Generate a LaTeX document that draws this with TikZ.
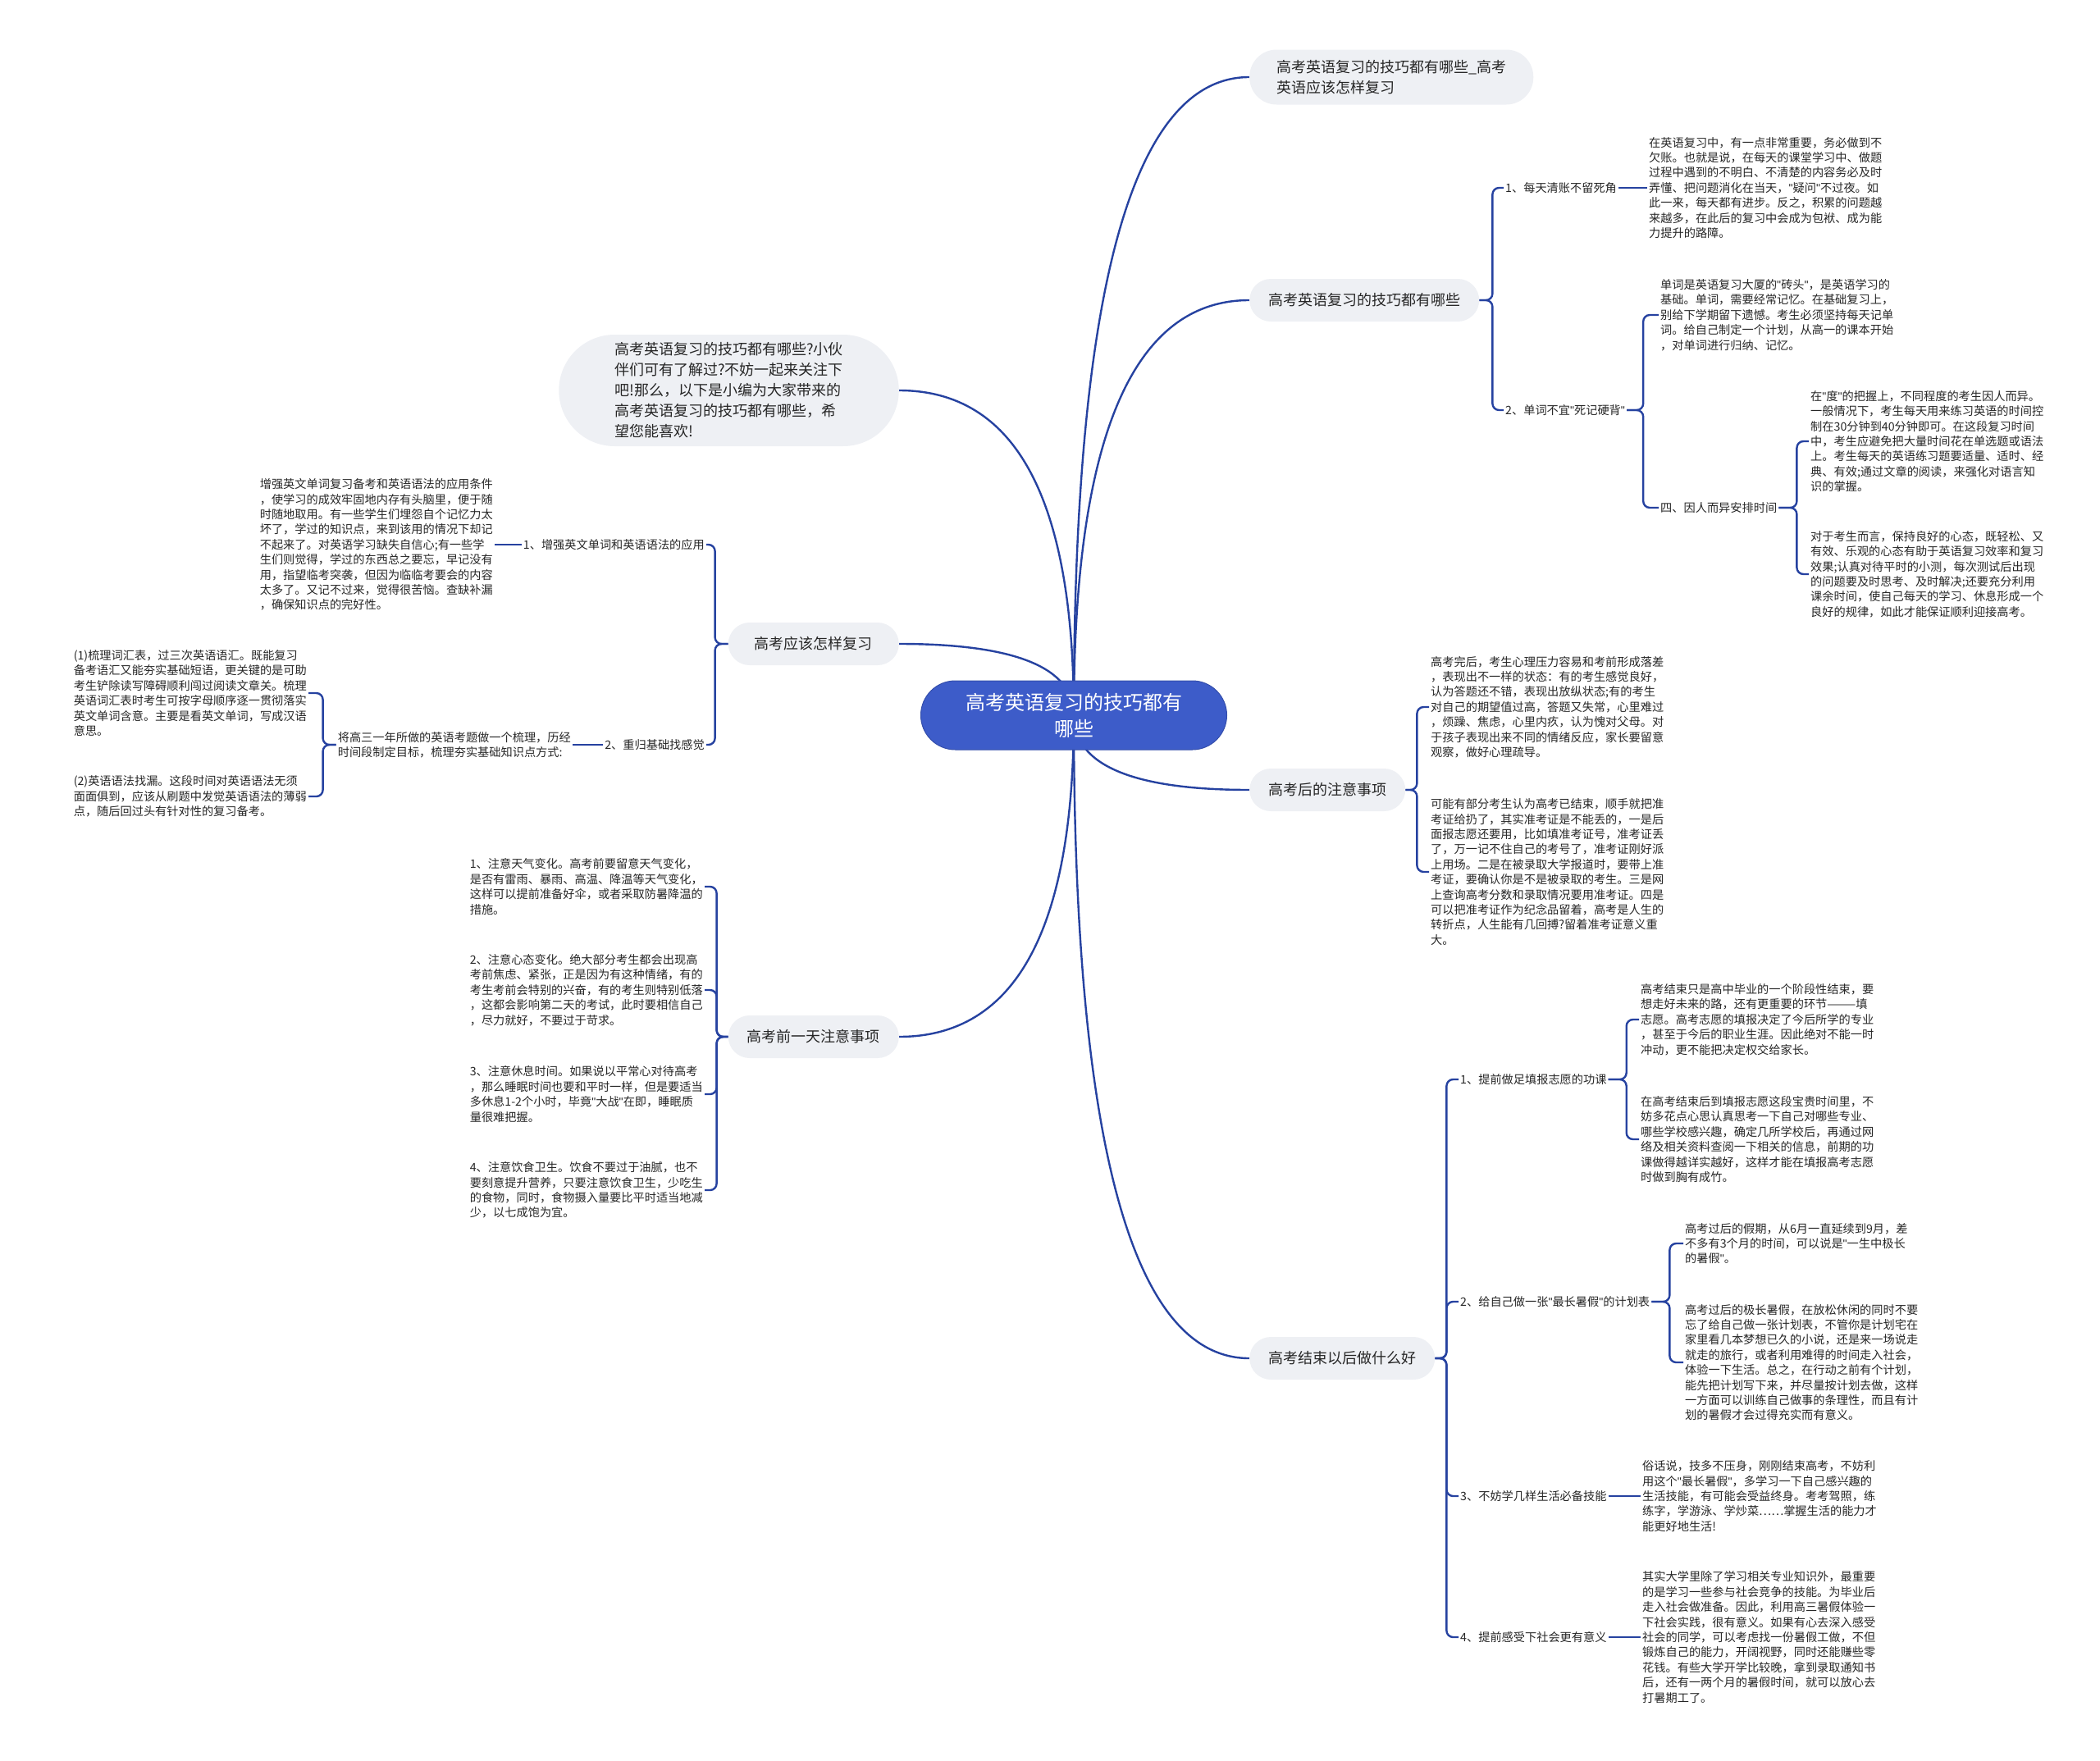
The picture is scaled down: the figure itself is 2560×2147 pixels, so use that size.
\documentclass[tikz,border=0pt]{standalone}
\usepackage{fontspec}
\setmainfont{Noto Sans CJK SC}
\newfontfamily\latinfont{Liberation Sans}
\newcommand{\dq}{{\latinfont"}}
\usetikzlibrary{calc,backgrounds}
\definecolor{rootblue}{RGB}{61,92,201}
\definecolor{linkblue}{RGB}{38,66,160}
\definecolor{pillgrey}{RGB}{238,240,244}
\definecolor{inkgrey}{RGB}{38,38,38}

\tikzset{
  rootnode/.style={rounded corners=42pt,fill=rootblue,draw=rootblue!85!black,line width=1pt,
    text=white,font=\fontsize{24}{32}\selectfont,align=center,minimum width=373pt,minimum height=84pt},
  branch/.style={rounded corners=26pt,fill=pillgrey,text=inkgrey,font=\fontsize{18}{25}\selectfont,
    inner xsep=23pt,minimum height=52pt,align=left},
  bubble/.style={branch,rounded corners=#1,inner xsep=#1},
  leaf/.style={text=inkgrey,font=\fontsize{14.2}{18.4}\selectfont,align=left,inner sep=2pt},
  link/.style={draw=linkblue,line width=2.4pt,rounded corners=8pt},
  % curve from the root: starts upright, ends level
  trunk/.style={to path={let \p1=(\tikztostart),\p2=(\tikztotarget) in
    .. controls ($(\p1)!0.667!(\x1,\y2)$) and ($(\p2)!0.667!(\x1,\y2)$) .. (\p2)}},
  % bracket to a child: out, along the spine, in
  bracket/.style={to path={-- ++(#1,0) |- (\tikztotarget)}}
}

\begin{document}
\begin{tikzpicture}[x=1pt,y=-1pt]
  \useasboundingbox (0,0) rectangle (2560,2147);

  \node[rootnode] (root) at (1309,872) {高考英语复习的技巧都有\\哪些};

  % right branches:
  \node[bubble=33pt,minimum height=67pt,anchor=west] (r1) at (1523,94) {高考英语复习的技巧都有哪些\_高考\\英语应该怎样复习};
  \node[branch,anchor=west] (r2) at (1523,366) {高考英语复习的技巧都有哪些};
  \node[branch,anchor=west] (r3) at (1523,963) {高考后的注意事项};
  \node[branch,anchor=west] (r4) at (1523,1656) {高考结束以后做什么好};

  % left branches:
  \node[bubble=68pt,minimum height=136pt,anchor=east] (l1) at (1096,476) {高考英语复习的技巧都有哪些?小伙\\伴们可有了解过?不妨一起来关注下\\吧!那么，以下是小编为大家带来的\\高考英语复习的技巧都有哪些，希\\望您能喜欢!};
  \node[branch,minimum width=208pt,anchor=east] (l2) at (1096,785) {高考应该怎样复习};
  \node[branch,anchor=east] (l3) at (1096,1264) {高考前一天注意事项};

  % r2:
  \node[leaf,anchor=west] (r2a) at (1833,229) {1、每天清账不留死角};
  \node[leaf,anchor=west] (r2a1) at (2008,229) {在英语复习中，有一点非常重要，务必做到不\\欠账。也就是说，在每天的课堂学习中、做题\\过程中遇到的不明白、不清楚的内容务必及时\\弄懂、把问题消化在当天，\dq 疑问\dq 不过夜。如\\此一来，每天都有进步。反之，积累的问题越\\来越多，在此后的复习中会成为包袱、成为能\\力提升的路障。};
  \node[leaf,anchor=west] (r2b) at (1833,500) {2、单词不宜\dq 死记硬背\dq};
  \node[leaf,anchor=west] (r2b1) at (2022,384) {单词是英语复习大厦的\dq 砖头\dq，是英语学习的\\基础。单词，需要经常记忆。在基础复习上，\\别给下学期留下遗憾。考生必须坚持每天记单\\词。给自己制定一个计划，从高一的课本开始\\，对单词进行归纳、记忆。};
  \node[leaf,anchor=west] (r2c) at (2022,619) {四、因人而异安排时间};
  \node[leaf,anchor=west] (r2c1) at (2205,538) {在\dq 度\dq 的把握上，不同程度的考生因人而异。\\一般情况下，考生每天用来练习英语的时间控\\制在30分钟到40分钟即可。在这段复习时间\\中，考生应避免把大量时间花在单选题或语法\\上。考生每天的英语练习题要适量、适时、经\\典、有效;通过文章的阅读，来强化对语言知\\识的掌握。};
  \node[leaf,anchor=west] (r2c2) at (2205,700) {对于考生而言，保持良好的心态，既轻松、又\\有效、乐观的心态有助于英语复习效率和复习\\效果;认真对待平时的小测，每次测试后出现\\的问题要及时思考、及时解决;还要充分利用\\课余时间，使自己每天的学习、休息形成一个\\良好的规律，如此才能保证顺利迎接高考。};

  % r3:
  \node[leaf,anchor=west] (r3a) at (1742,862) {高考完后，考生心理压力容易和考前形成落差\\，表现出不一样的状态：有的考生感觉良好，\\认为答题还不错，表现出放纵状态;有的考生\\对自己的期望值过高，答题又失常，心里难过\\，烦躁、焦虑，心里内疚，认为愧对父母。对\\于孩子表现出来不同的情绪反应，家长要留意\\观察，做好心理疏导。};
  \node[leaf,anchor=west] (r3b) at (1742,1063) {可能有部分考生认为高考已结束，顺手就把准\\考证给扔了，其实准考证是不能丢的，一是后\\面报志愿还要用，比如填准考证号，准考证丢\\了，万一记不住自己的考号了，准考证刚好派\\上用场。二是在被录取大学报道时，要带上准\\考证，要确认你是不是被录取的考生。三是网\\上查询高考分数和录取情况要用准考证。四是\\可以把准考证作为纪念品留着，高考是人生的\\转折点，人生能有几回搏?留着准考证意义重\\大。};

  % r4:
  \node[leaf,anchor=west] (r4a) at (1778,1316) {1、提前做足填报志愿的功课};
  \node[leaf,anchor=west] (r4a1) at (1998,1243) {高考结束只是高中毕业的一个阶段性结束，要\\想走好未来的路，还有更重要的环节———填\\志愿。高考志愿的填报决定了今后所学的专业\\，甚至于今后的职业生涯。因此绝对不能一时\\冲动，更不能把决定权交给家长。};
  \node[leaf,anchor=west] (r4a2) at (1998,1389) {在高考结束后到填报志愿这段宝贵时间里，不\\妨多花点心思认真思考一下自己对哪些专业、\\哪些学校感兴趣，确定几所学校后，再通过网\\络及相关资料查阅一下相关的信息，前期的功\\课做得越详实越好，这样才能在填报高考志愿\\时做到胸有成竹。};
  \node[leaf,anchor=west] (r4b) at (1778,1587) {2、给自己做一张\dq 最长暑假\dq 的计划表};
  \node[leaf,anchor=west] (r4b1) at (2052,1516) {高考过后的假期，从6月一直延续到9月，差\\不多有3个月的时间，可以说是\dq 一生中极长\\的暑假\dq。};
  \node[leaf,anchor=west] (r4b2) at (2052,1661) {高考过后的极长暑假，在放松休闲的同时不要\\忘了给自己做一张计划表，不管你是计划宅在\\家里看几本梦想已久的小说，还是来一场说走\\就走的旅行，或者利用难得的时间走入社会，\\体验一下生活。总之，在行动之前有个计划，\\能先把计划写下来，并尽量按计划去做，这样\\一方面可以训练自己做事的条理性，而且有计\\划的暑假才会过得充实而有意义。};
  \node[leaf,anchor=west] (r4c) at (1778,1824) {3、不妨学几样生活必备技能};
  \node[leaf,anchor=west] (r4c1) at (2000,1824) {俗话说，技多不压身，刚刚结束高考，不妨利\\用这个\dq 最长暑假\dq，多学习一下自己感兴趣的\\生活技能，有可能会受益终身。考考驾照，练\\练字，学游泳、学炒菜……掌握生活的能力才\\能更好地生活!};
  \node[leaf,anchor=west] (r4d) at (1778,1996) {4、提前感受下社会更有意义};
  \node[leaf,anchor=west] (r4d1) at (2000,1996) {其实大学里除了学习相关专业知识外，最重要\\的是学习一些参与社会竞争的技能。为毕业后\\走入社会做准备。因此，利用高三暑假体验一\\下社会实践，很有意义。如果有心去深入感受\\社会的同学，可以考虑找一份暑假工做，不但\\锻炼自己的能力，开阔视野，同时还能赚些零\\花钱。有些大学开学比较晚，拿到录取通知书\\后，还有一两个月的暑假时间，就可以放心去\\打暑期工了。};

  % l2:
  \node[leaf,anchor=east] (l2a) at (861,664) {1、增强英文单词和英语语法的应用};
  \node[leaf,anchor=east] (l2a1) at (603,664) {增强英文单词复习备考和英语语法的应用条件\\，使学习的成效牢固地内存有头脑里，便于随\\时随地取用。有一些学生们埋怨自个记忆力太\\坏了，学过的知识点，来到该用的情况下却记\\不起来了。对英语学习缺失自信心;有一些学\\生们则觉得，学过的东西总之要忘，早记没有\\用，指望临考突袭，但因为临临考要会的内容\\太多了。又记不过来，觉得很苦恼。查缺补漏\\，确保知识点的完好性。};
  \node[leaf,anchor=east] (l2b) at (861,908) {2、重归基础找感觉};
  \node[leaf,anchor=east] (l2b1) at (698,908) {将高三一年所做的英语考题做一个梳理，历经\\时间段制定目标，梳理夯实基础知识点方式:};
  \node[leaf,anchor=east] (l2b1a) at (376,845) {(1)梳理词汇表，过三次英语语汇。既能复习\\备考语汇又能夯实基础短语，更关键的是可助\\考生铲除读写障碍顺利闯过阅读文章关。梳理\\英语词汇表时考生可按字母顺序逐一贯彻落实\\英文单词含意。主要是看英文单词，写成汉语\\意思。};
  \node[leaf,anchor=east] (l2b1b) at (376,971) {(2)英语语法找漏。这段时间对英语语法无须\\面面俱到，应该从刷题中发觉英语语法的薄弱\\点，随后回过头有针对性的复习备考。};

  % l3:
  \node[leaf,anchor=east] (l3a) at (859,1081) {1、注意天气变化。高考前要留意天气变化，\\是否有雷雨、暴雨、高温、降温等天气变化，\\这样可以提前准备好伞，或者采取防暑降温的\\措施。};
  \node[leaf,anchor=east] (l3b) at (859,1207) {2、注意心态变化。绝大部分考生都会出现高\\考前焦虑、紧张，正是因为有这种情绪，有的\\考生考前会特别的兴奋，有的考生则特别低落\\，这都会影响第二天的考试，此时要相信自己\\，尽力就好，不要过于苛求。};
  \node[leaf,anchor=east] (l3c) at (859,1334) {3、注意休息时间。如果说以平常心对待高考\\，那么睡眠时间也要和平时一样，但是要适当\\多休息1-2个小时，毕竟\dq 大战\dq 在即，睡眠质\\量很难把握。};
  \node[leaf,anchor=east] (l3d) at (859,1451) {4、注意饮食卫生。饮食不要过于油腻，也不\\要刻意提升营养，只要注意饮食卫生，少吃生\\的食物，同时，食物摄入量要比平时适当地减\\少，以七成饱为宜。};

  \begin{scope}[on background layer]
    % root to branches:
    \foreach \b in {r1,r2,r3,r4}
      \draw[link] (root.center) to[trunk] (\b.west);
    \foreach \b in {l1,l2,l3}
      \draw[link] (root.center) to[trunk] (\b.east);
    % right brackets:
    \draw[link] (r2.east) to[bracket=16] (r2a.west);
    \draw[link] (r2.east) to[bracket=16] (r2b.west);
    \draw[link] (r2a.east) -- (r2a1.west);
    \draw[link] (r2b.east) to[bracket=20] (r2b1.west);
    \draw[link] (r2b.east) to[bracket=20] (r2c.west);
    \draw[link] (r2c.east) to[bracket=22] (r2c1.west);
    \draw[link] (r2c.east) to[bracket=22] (r2c2.west);
    \draw[link] (r3.east) to[bracket=14] (r3a.west);
    \draw[link] (r3.east) to[bracket=14] (r3b.west);
    \foreach \c in {r4a,r4b,r4c,r4d}
      \draw[link] (r4.east) to[bracket=14] (\c.west);
    \draw[link] (r4a.east) to[bracket=22] (r4a1.west);
    \draw[link] (r4a.east) to[bracket=22] (r4a2.west);
    \draw[link] (r4b.east) to[bracket=22] (r4b1.west);
    \draw[link] (r4b.east) to[bracket=22] (r4b2.west);
    \draw[link] (r4c.east) -- (r4c1.west);
    \draw[link] (r4d.east) -- (r4d1.west);
    % left brackets:
    \draw[link] (l2.west) to[bracket=-16] (l2a.east);
    \draw[link] (l2.west) to[bracket=-16] (l2b.east);
    \draw[link] (l2a.west) -- (l2a1.east);
    \draw[link] (l2b.west) -- (l2b1.east);
    \draw[link] (l2b1.west) to[bracket=-16] (l2b1a.east);
    \draw[link] (l2b1.west) to[bracket=-16] (l2b1b.east);
    \foreach \c in {l3a,l3b,l3c,l3d}
      \draw[link] (l3.west) to[bracket=-14] (\c.east);
  \end{scope}
\end{tikzpicture}
\end{document}
